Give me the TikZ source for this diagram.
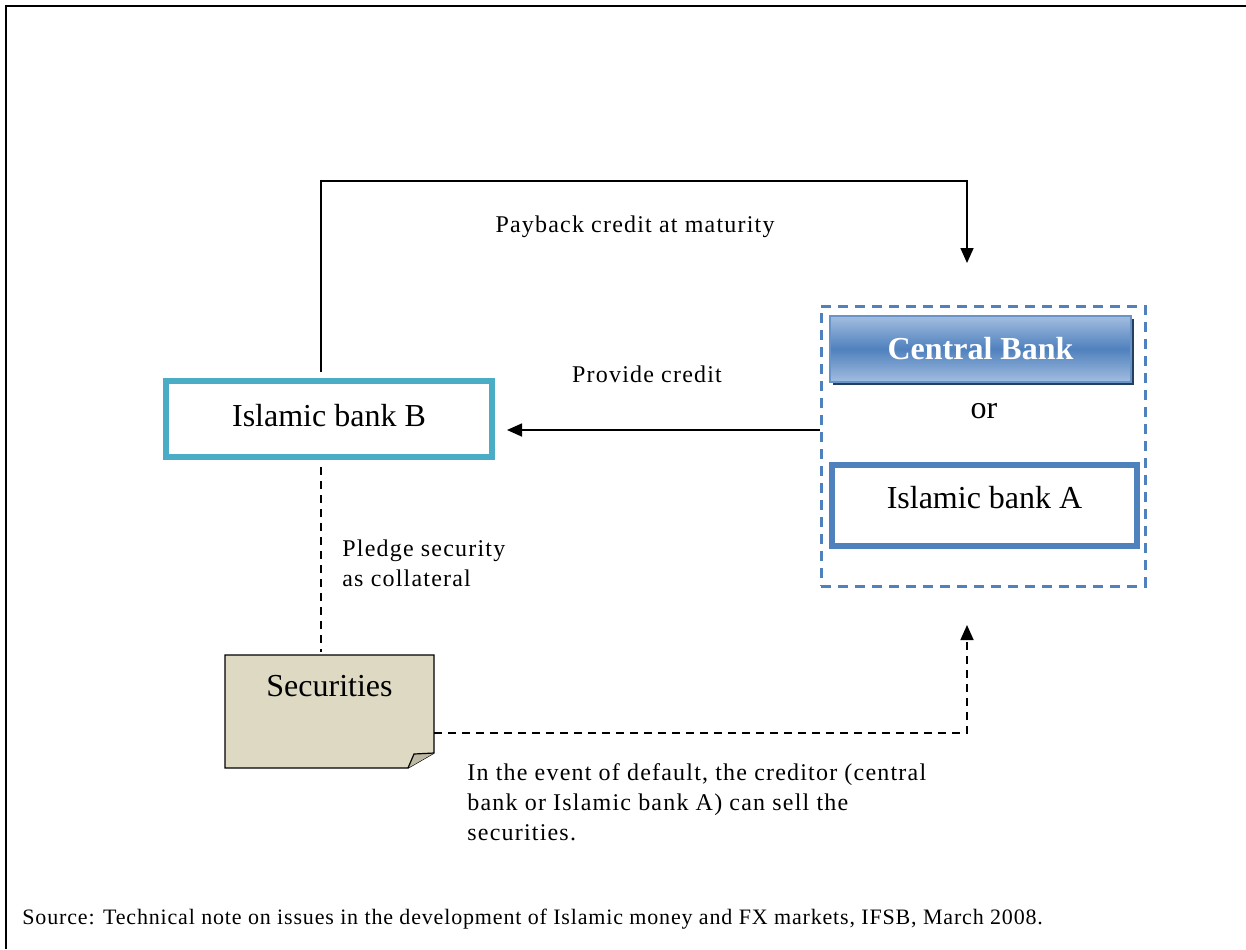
\documentclass[tikz,border=0pt]{standalone}
\usepackage{fontspec}
\setmainfont{Liberation Serif}
\newfontfamily\wideserif[LetterSpace=5]{Liberation Serif}
\newfontfamily\sourceserif[LetterSpace=3.8]{Liberation Serif}
\usetikzlibrary{positioning,arrows.meta,shadows}

\definecolor{bankcyan}{HTML}{4BACC6}
\definecolor{bankblue}{HTML}{4F81BD}
\definecolor{banklight}{HTML}{A3BDE0}
\definecolor{bankshade}{HTML}{243F60}
\definecolor{paper}{HTML}{DDD9C3}
\definecolor{paperfold}{HTML}{BDB9A2}

\begin{document}
\begin{tikzpicture}[x=0.5pt,y=-0.5pt,
	bank/.style={draw,line width=3pt,minimum width=163pt,minimum height=38pt,font=\fontsize{16}{20}\selectfont},
	tip/.style={-{Triangle[length=7.5pt,width=6.5pt]}},
	solidline/.style={line width=0.8pt,tip},
	dashline/.style={line width=0.8pt,dash pattern=on 4pt off 3pt},
	label/.style={font=\wideserif\fontsize{12}{15}\selectfont},
	note/.style={label,align=left,inner sep=0pt}]
	\useasboundingbox (0,0) rectangle (1246,949);
	\draw[line width=1pt] (6,949) -- (6,6) -- (1246,6);

	% creditor side
	\node[draw=bankblue,line width=1.5pt,dash pattern=on 5pt off 3.5pt,minimum width=162pt,minimum height=140pt] (group) at (983,446) {};
	\node[draw=bankblue!85,line width=0.6pt,top color=banklight,bottom color=banklight,middle color=bankblue,
		drop shadow={shadow xshift=1.6pt,shadow yshift=-1.6pt,fill=bankshade,opacity=1},
		minimum width=150.5pt,minimum height=33pt,text=white,font=\bfseries\fontsize{16}{20}\selectfont] (cb) at (980.5,349) {Central Bank};
	\node[font=\fontsize{16}{20}\selectfont] (ornode) at (984,411) {or};
	\node[bank,draw=bankblue,minimum width=152.5pt,minimum height=40.5pt,text depth=8pt] (bankA) at (984.5,505.5) {Islamic bank A};

	% borrower side
	\node[bank,draw=bankcyan,text depth=4pt] (bankB) at (329,419) {Islamic bank B};
	\node[minimum width=104.5pt,minimum height=56.5pt,inner sep=0pt,outer sep=0pt] (sec) at (329.5,711.5) {};
	\draw[fill=paper,line width=0.6pt] (sec.north west) -- (sec.north east) -- ([yshift=7.5pt]sec.south east)
		-- ([xshift=-13pt]sec.south east) -- (sec.south west) -- cycle;
	\draw[fill=paperfold,line width=0.6pt] ([xshift=-13pt]sec.south east) -- ([xshift=-10pt,yshift=7pt]sec.south east)
		-- ([yshift=7.5pt]sec.south east);
	\node[font=\fontsize{16}{20}\selectfont] (seclabel) at ([yshift=-15.5pt]sec.north) {Securities};

	\coordinate (payend) at (967,263);
	\coordinate (sellend) at (967,625);
	\coordinate (creditstart) at ([yshift=8pt]group.west);

	\draw[solidline,shorten <=3pt] ([xshift=-4pt]bankB.north) -- ++(0,-197) -| (payend);
	\draw[solidline,shorten >=6pt] (creditstart) -- (creditstart -| bankB.east);
	\draw[dashline,shorten <=3.5pt,shorten >=1.5pt] ([xshift=-4pt]bankB.south) -- ([xshift=-4.25pt]sec.north);
	\draw[dashline,tip] ([yshift=-10.75pt]sec.east) -| (sellend);

	% labels
	\node[label] (payback) at (635,227) {Payback credit at maturity};
	\node[label] (provide) at (647,374) {Provide credit};
	\node[note,anchor=west] (pledge) at (342,563) {Pledge security\\as collateral};
	\node[note,anchor=west] (sell) at (467,802) {In the event of default, the creditor (central\\bank or Islamic bank A) can sell the\\securities.};
	\node[note,anchor=west,font=\sourceserif\fontsize{11}{13}\selectfont] (source) at (22,919) {Source: Technical note on issues in the development of Islamic money and FX markets, IFSB, March 2008.};
\end{tikzpicture}
\end{document}
